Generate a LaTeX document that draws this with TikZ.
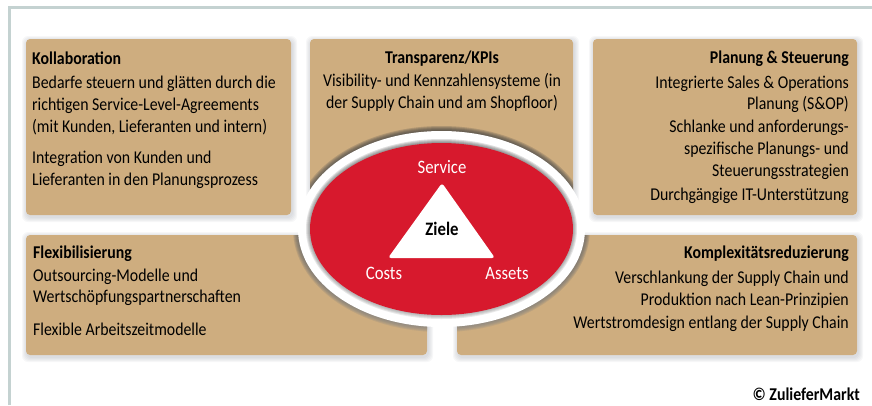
\documentclass[tikz,border=0pt]{standalone}
\usepackage{fontspec}
\setmainfont{Carlito}[FakeStretch=0.88]
\definecolor{boxtan}{RGB}{206,173,127}
\definecolor{zielred}{RGB}{215,25,45}
\definecolor{framegray}{RGB}{196,210,209}
\definecolor{shade}{RGB}{140,145,155}
\begin{document}
\begin{tikzpicture}[x=1pt,y=-1pt,
  box/.style={fill=boxtan, rounded corners=4pt},
  boxshadow/.style={fill=shade, opacity=0.07, rounded corners=6pt},
  boxtext/.style={inner sep=0pt, font=\fontsize{18}{21.7}\selectfont},
  ziel/.style={inner sep=0pt, text=white, font=\fontsize{19}{20}\selectfont}]
\useasboundingbox (0,0) rectangle (872,405);

%frame top and left
\draw[framegray, line width=3pt] (9.5,405) -- (9.5,7) -- (872,7);

%box shadows
\foreach \k in {1,...,5}{
  \fill[boxshadow] (26-\k+1,39-\k+2) rectangle (291+\k+1,215+\k+2);
  \fill[boxshadow] (310-\k+1,39-\k+2) rectangle (573+\k+1,229+\k+2);
  \fill[boxshadow] (593-\k+1,39-\k+2) rectangle (857+\k+1,215+\k+2);
  \fill[boxshadow] (26-\k+1,235-\k+2) rectangle (427+\k+1,355+\k+2);
  \fill[boxshadow] (457-\k+1,235-\k+2) rectangle (857+\k+1,355+\k+2);
}

%boxes
\fill[box] (26,39) rectangle (291,215);
\fill[box] (310,39) rectangle (573,229);
\fill[box] (593,39) rectangle (857,215);
\fill[box] (26,235) rectangle (427,355);
\fill[box] (457,235) rectangle (857,355);

%shade of the ring on the boxes
\begin{scope}
  \clip[rounded corners=4pt] (26,39) rectangle (291,215) (310,39) rectangle (573,229)
    (593,39) rectangle (857,215) (26,235) rectangle (427,355) (457,235) rectangle (857,355);
  \foreach \k in {1,...,5}
    \fill[shade, opacity=0.12] (441.5,229) ellipse ({143.5+\k} and {98+\k});
\end{scope}

%white ring and red ellipse
\fill[white] (441.5,229) ellipse (143.5 and 98);
\foreach \k in {1,...,4}
  \fill[shade, opacity=0.09] (441.5,229) ellipse ({131.5+\k} and {86+\k});
\fill[zielred] (441.5,229) ellipse (131.5 and 86);

%triangle
\fill[white, rounded corners=3pt] (442,183) -- (495,258) -- (388,258) -- cycle;
\node[inner sep=0pt, font=\fontsize{19}{20}\selectfont\bfseries] (ziele) at (442,229) {Ziele};
\node[ziel] (service) at (442,167) {Service};
\node[ziel] (costs) at (384,273) {Costs};
\node[ziel] (assets) at (507,273) {Assets};

%texts, placed by the baseline of their last line
\node[boxtext, anchor=base west, align=left] (kollab) at (32,185) {\textbf{Kollaboration}\\[2.6pt]
Bedarfe steuern und glätten durch die\\
richtigen Service-Level-Agreements\\
(mit Kunden, Lieferanten und intern)\\[9.6pt]
Integration von Kunden und\\
Lieferanten in den Planungsprozess};

\node[boxtext, anchor=base, align=center] (transp) at (442,108.3) {\textbf{Transparenz/KPIs}\\[1.7pt]
Visibility- und Kennzahlensysteme (in\\
der Supply Chain und am Shopfloor)};

\node[boxtext, anchor=base east, align=right] (planung) at (849,200) {\textbf{Planung \& Steuerung}\\[3pt]
Integrierte Sales \& Operations\\
Planung (S\&OP)\\[1.3pt]
Schlanke und anforderungs-\\
spezifische Planungs- und\\
Steuerungsstrategien\\[2pt]
Durchgängige IT-Unterstützung};

\node[boxtext, anchor=base west, align=left] (flex) at (33,335) {\textbf{Flexibilisierung}\\[1pt]
Outsourcing-Modelle und\\
Wertschöpfungspartnerschaften\\[10.6pt]
Flexible Arbeitszeitmodelle};

\node[boxtext, anchor=base east, align=right] (komplex) at (849,328) {\textbf{Komplexitätsreduzierung}\\[3.3pt]
Verschlankung der Supply Chain und\\
Produktion nach Lean-Prinzipien\\[1.3pt]
Wertstromdesign entlang der Supply Chain};

\node[inner sep=0pt, anchor=base east, font=\fontsize{18}{20}\selectfont\bfseries] (copy) at (860,400) {© ZulieferMarkt};
\end{tikzpicture}
\end{document}
